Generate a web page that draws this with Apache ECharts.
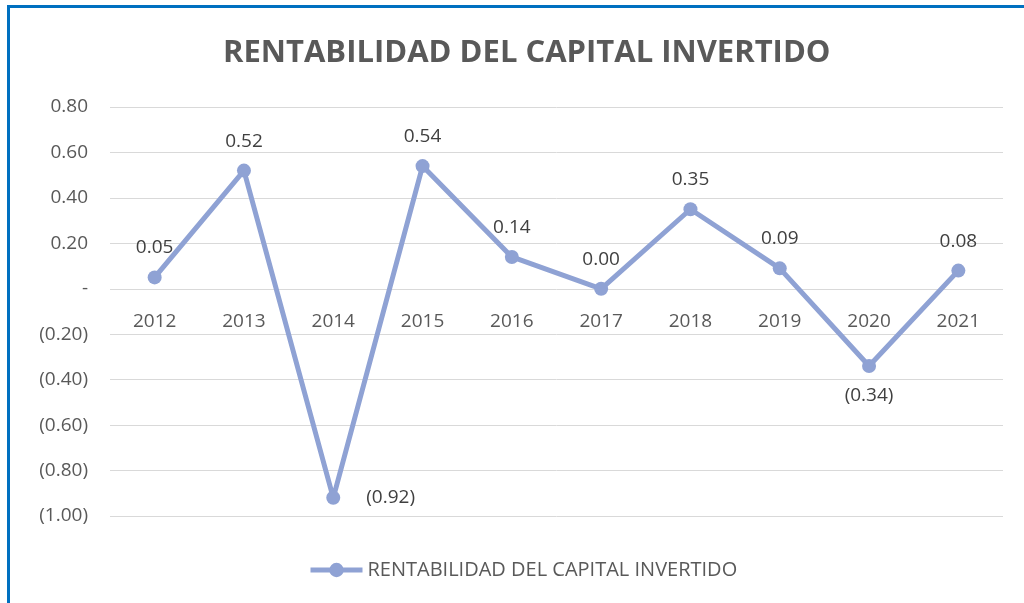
<!DOCTYPE html>
<html>
<head>
<meta charset="utf-8">
<script src="https://cdn.jsdelivr.net/npm/echarts@6/dist/echarts.min.js"></script>
<style>
html, body { margin: 0; padding: 0; background: #fff; }
#frame {
  position: absolute; left: 7px; top: 5px; width: 1030px; height: 610px;
  border-left: 3px solid #0070C0; border-top: 3px solid #0070C0;
}
#chart { position: absolute; left: 0; top: 0; width: 1024px; height: 603px; }
</style>
</head>
<body>
<div id="frame"></div>
<div id="chart"></div>
<script>
var years = ["2012", "2013", "2014", "2015", "2016", "2017", "2018", "2019", "2020", "2021"];
var values = [0.05, 0.52, -0.92, 0.54, 0.14, 0.00, 0.35, 0.09, -0.34, 0.08];
var labelPos = ["top", "top", "right", "top", "top", "top", "top", "top", "bottom", "top"];
var seriesName = "RENTABILIDAD DEL CAPITAL INVERTIDO";

function fmt(v) {
  if (Math.abs(v) < 1e-9) return "-";
  if (v < 0) return "(" + Math.abs(v).toFixed(2) + ")";
  return v.toFixed(2);
}
function fmtLabel(v) {
  if (v < 0) return "(" + Math.abs(v).toFixed(2) + ")";
  return v.toFixed(2);
}

var points = values.map(function (v, i) {
  var item = { value: v, label: { position: labelPos[i] } };
  if (labelPos[i] === "right") {
    item.label.distance = 26;
  }
  return item;
});

// grid height 409px for 1.8 units -> zero line sits 1.0 unit above the bottom
var gridTop = 107, gridBottom = 87;
var zeroOffset = (603 - gridTop - gridBottom) * (1.0 / 1.8);

var chart = echarts.init(document.getElementById("chart"));
var option = {
  animation: false,
  title: {
    text: "RENTABILIDAD DEL CAPITAL INVERTIDO",
    left: 218,
    top: 33,
    textStyle: { fontFamily: "Open Sans", fontWeight: "bold", fontSize: 31, color: "#595959" }
  },
  grid: { left: 110, right: 21, top: gridTop, bottom: gridBottom },
  legend: {
    left: 303,
    top: 555,
    itemWidth: 52,
    itemHeight: 18,
    itemGap: 8,
    itemStyle: { color: "#8FA2D4" },
    lineStyle: { width: 5 },
    textStyle: { fontFamily: "Open Sans", fontSize: 20, color: "#595959" },
    data: [seriesName]
  },
  xAxis: {
    type: "category",
    data: years,
    position: "bottom",
    offset: -zeroOffset,
    axisLine: { show: false, onZero: false },
    axisTick: { show: false },
    axisLabel: { margin: 23, fontFamily: "Open Sans", fontSize: 19, color: "#595959" }
  },
  yAxis: {
    type: "value",
    min: -1.0,
    max: 0.8,
    interval: 0.2,
    axisLine: { show: false },
    axisTick: { show: false },
    splitLine: { lineStyle: { color: "#d9d9d9", width: 1 } },
    axisLabel: {
      margin: 22,
      fontFamily: "Open Sans", fontSize: 19, color: "#595959",
      formatter: function (v) { return fmt(Math.round(v * 100) / 100); }
    }
  },
  series: [{
    name: seriesName,
    type: "line",
    data: points,
    symbol: "circle",
    symbolSize: 14,
    lineStyle: { color: "#8FA2D4", width: 5 },
    itemStyle: { color: "#8FA2D4" },
    label: {
      show: true,
      distance: 13,
      fontFamily: "Open Sans", fontSize: 19, color: "#404040",
      formatter: function (p) { return fmtLabel(p.value); }
    }
  }]
};
chart.setOption(option);
</script>
</body>
</html>
